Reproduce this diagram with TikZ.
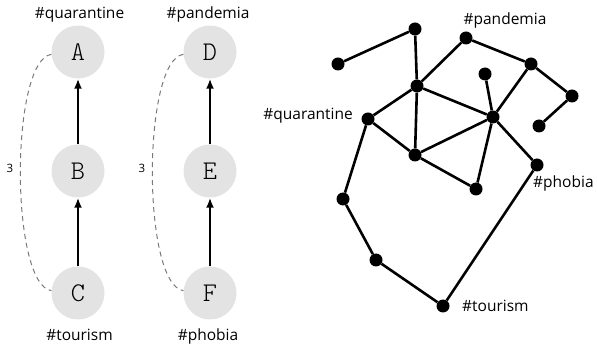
\documentclass[tikz,border=0pt]{standalone}
\usepackage{fontspec}
\setmainfont{Open Sans}
\newfontfamily\bubblefont{Latin Modern Mono Light}
\usetikzlibrary{arrows.meta}
\definecolor{bubblegray}{HTML}{E3E3E3}
\definecolor{hopline}{HTML}{7A7A7A}
\newcommand{\bubbletext}[1]{{\bubblefont\fontsize{27pt}{27pt}\selectfont #1}}
\newcommand{\tagtext}[1]{{\fontsize{15.5pt}{16pt}\selectfont #1}}
\newcommand{\hoptext}[1]{{\fontsize{11.5pt}{12pt}\selectfont #1}}
\tikzset{
  bubble/.style={circle, fill=bubblegray, minimum size=53pt, inner sep=0pt},
  tag/.style={anchor=base, inner sep=0pt},
  hops/.style={inner sep=0pt},
  follow/.style={line width=2pt, -{Latex[length=10pt, width=8pt]}},
  hop/.style={hopline, line width=1pt, dash pattern=on 5pt off 4pt},
  dot/.style={circle, fill=black, minimum size=13pt, inner sep=0pt},
  link/.style={line width=2.6pt}
}
\begin{document}
\begin{tikzpicture}[x=1pt, y=-1pt]
\useasboundingbox (0,0) rectangle (597,347);

% two follow chains
\node[bubble] (A) at (78,52) {\bubbletext{A}};
\node[bubble] (B) at (78,171) {\bubbletext{B}};
\node[bubble] (C) at (78,293) {\bubbletext{C}};
\node[bubble] (D) at (210,52) {\bubbletext{D}};
\node[bubble] (E) at (210,171) {\bubbletext{E}};
\node[bubble] (F) at (210,293) {\bubbletext{F}};

\draw[follow] (B) -- (A);
\draw[follow] (C) -- (B);
\draw[follow] (E) -- (D);
\draw[follow] (F) -- (E);

\draw[hop] (A.185) .. controls (10,60) and (10,285) .. (C.175);
\draw[hop] (D.185) .. controls (142,60) and (142,285) .. (F.175);
\node[hops] (h1) at (10,168) {\hoptext{3}};
\node[hops] (h2) at (142,168) {\hoptext{3}};

\node[tag] (tq) at (79.5,18.5) {\tagtext{\#quarantine}};
\node[tag] (tp) at (208,18.5) {\tagtext{\#pandemia}};
\node[tag] (tt) at (79.5,341) {\tagtext{\#tourism}};
\node[tag] (tb) at (208,341) {\tagtext{\#phobia}};

% network
\node[dot] (n1) at (415,29) {};
\node[dot] (n2) at (338,64) {};
\node[dot] (n3) at (466,38) {};
\node[dot] (n4) at (531,64) {};
\node[dot] (n5) at (485,74) {};
\node[dot] (n6) at (417,86) {};
\node[dot] (n7) at (572,96) {};
\node[dot] (n8) at (368,119) {};
\node[dot] (n9) at (493,117) {};
\node[dot] (n10) at (539,126) {};
\node[dot] (n11) at (415,155) {};
\node[dot] (n12) at (537,165) {};
\node[dot] (n13) at (476,189) {};
\node[dot] (n14) at (343,199) {};
\node[dot] (n15) at (376,260) {};
\node[dot] (n16) at (443,306) {};

\draw[link] (n2) -- (n1) -- (n6) -- (n3) -- (n4) -- (n7) -- (n10);
\draw[link] (n4) -- (n9);
\draw[link] (n5) -- (n9);
\draw[link] (n6) -- (n9) -- (n12);
\draw[link] (n6) -- (n8) -- (n11) -- (n9) -- (n13);
\draw[link] (n6) -- (n11) -- (n13);
\draw[link] (n8) -- (n14) -- (n15) -- (n16) -- (n12);

\node[tag] (lp) at (505,25) {\tagtext{\#pandemia}};
\node[tag, anchor=base east] (lq) at (353,120) {\tagtext{\#quarantine}};
\node[tag, anchor=base west] (lb) at (533,188) {\tagtext{\#phobia}};
\node[tag, anchor=base west] (lt) at (462,312) {\tagtext{\#tourism}};
\end{tikzpicture}
\end{document}
